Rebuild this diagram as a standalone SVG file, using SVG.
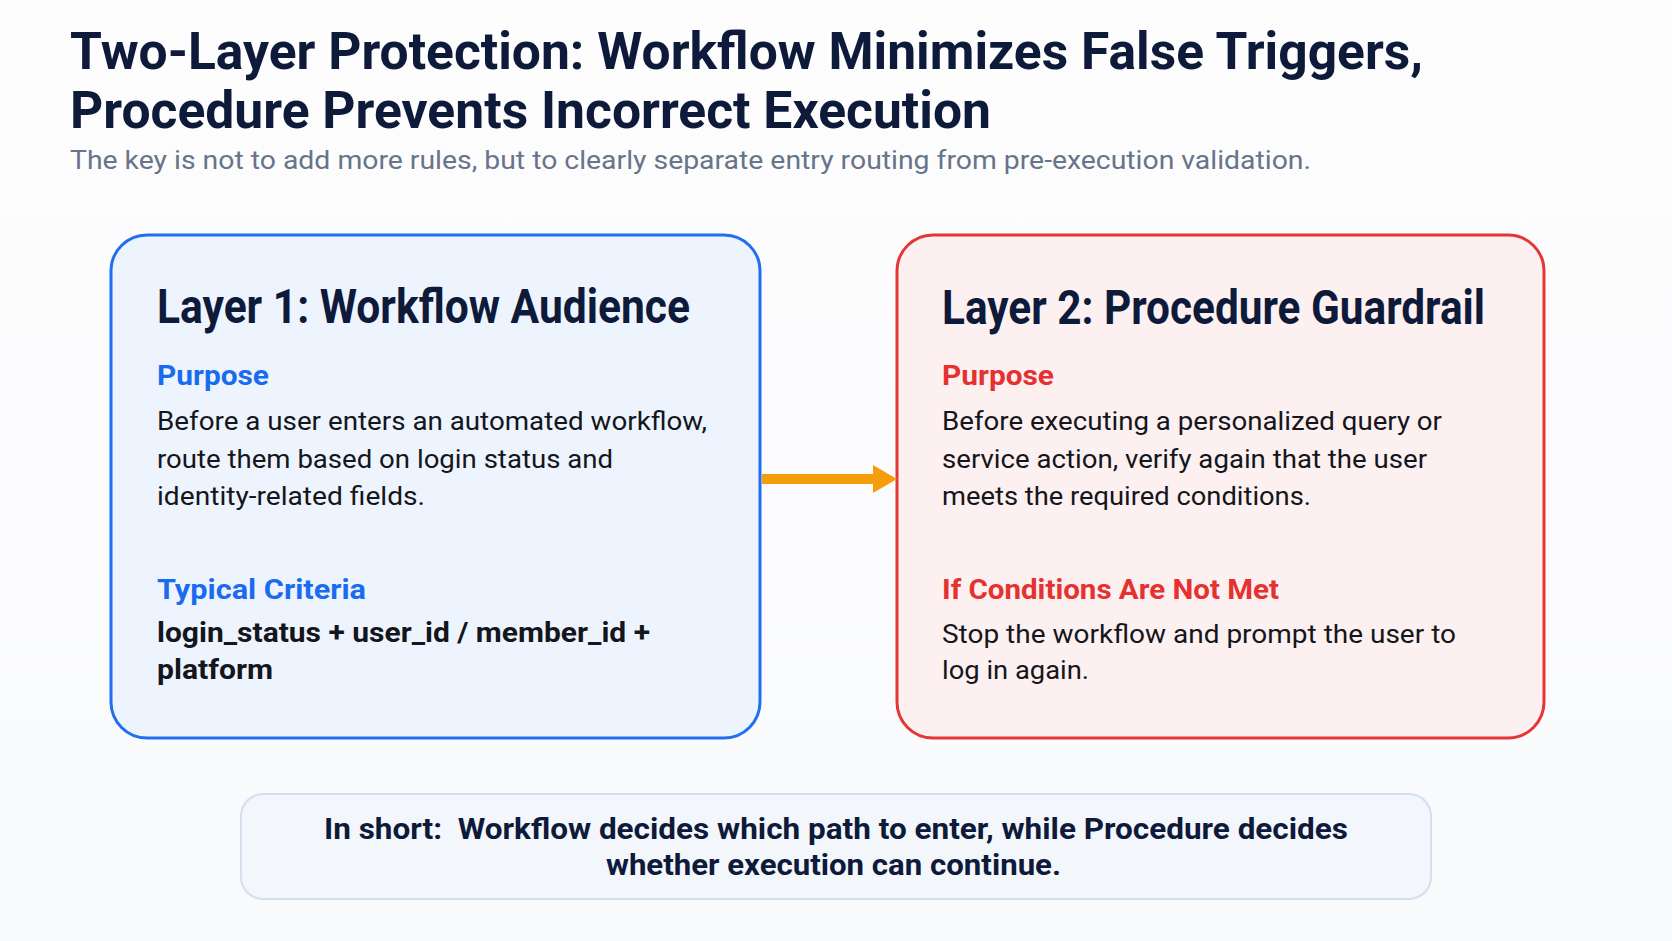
<svg xmlns="http://www.w3.org/2000/svg" width="1672" height="941" viewBox="0 0 1672 941">
<style>
text{font-family:Roboto,"Liberation Sans",sans-serif;}
.title{font-size:52px;font-weight:700;fill:#0E1A3A;}
.sub{font-size:26px;fill:#67748A;}
.h{font-size:48px;font-weight:700;fill:#0E1A3A;}
.lblB{font-size:27px;font-weight:700;fill:#1A6BF0;}
.lblR{font-size:27px;font-weight:700;fill:#E5312F;}
.body{font-size:26px;fill:#14161C;}
.bold{font-size:27px;font-weight:700;fill:#14161C;}
.sum{font-size:30px;font-weight:700;fill:#0E1A3A;}
</style>
<defs>
<linearGradient id="bg" x1="0" y1="0" x2="0" y2="1">
<stop offset="0" stop-color="#FDFDFE"/>
<stop offset="1" stop-color="#F9FAFC"/>
</linearGradient>
</defs>
<rect width="1672" height="941" fill="url(#bg)"/>
<g id="header">
<text class="title" x="70" y="69" textLength="1353" lengthAdjust="spacingAndGlyphs">Two-Layer Protection: Workflow Minimizes False Triggers,</text>
<text class="title" x="70" y="128" textLength="921" lengthAdjust="spacingAndGlyphs">Procedure Prevents Incorrect Execution</text>
<text class="sub" x="70" y="169" textLength="1241" lengthAdjust="spacingAndGlyphs">The key is not to add more rules, but to clearly separate entry routing from pre-execution validation.</text>
</g>
<g id="layer1">
<rect x="111" y="235" width="649" height="503" rx="36" fill="#EEF4FD" stroke="#1F6FF0" stroke-width="3"/>
<text class="h" x="157" y="323" textLength="533" lengthAdjust="spacingAndGlyphs">Layer 1: Workflow Audience</text>
<text class="lblB" x="157" y="385" textLength="112" lengthAdjust="spacingAndGlyphs">Purpose</text>
<text class="body" x="157" y="430" textLength="550" lengthAdjust="spacingAndGlyphs">Before a user enters an automated workflow,</text>
<text class="body" x="157" y="468" textLength="456" lengthAdjust="spacingAndGlyphs">route them based on login status and</text>
<text class="body" x="157" y="505" textLength="268" lengthAdjust="spacingAndGlyphs">identity-related fields.</text>
<text class="lblB" x="157" y="599" textLength="209" lengthAdjust="spacingAndGlyphs">Typical Criteria</text>
<text class="bold" x="157" y="642" textLength="493" lengthAdjust="spacingAndGlyphs">login_status + user_id / member_id +</text>
<text class="bold" x="157" y="679" textLength="116" lengthAdjust="spacingAndGlyphs">platform</text>
</g>
<g id="layer2">
<rect x="897" y="235" width="647" height="503" rx="36" fill="#FDF0F1" stroke="#E53535" stroke-width="3"/>
<text class="h" x="942" y="324" textLength="543" lengthAdjust="spacingAndGlyphs">Layer 2: Procedure Guardrail</text>
<text class="lblR" x="942" y="385" textLength="112" lengthAdjust="spacingAndGlyphs">Purpose</text>
<text class="body" x="942" y="430" textLength="500" lengthAdjust="spacingAndGlyphs">Before executing a personalized query or</text>
<text class="body" x="942" y="468" textLength="485" lengthAdjust="spacingAndGlyphs">service action, verify again that the user</text>
<text class="body" x="942" y="505" textLength="369" lengthAdjust="spacingAndGlyphs">meets the required conditions.</text>
<text class="lblR" x="942" y="599" textLength="337" lengthAdjust="spacingAndGlyphs">If Conditions Are Not Met</text>
<text class="body" x="942" y="643" textLength="514" lengthAdjust="spacingAndGlyphs">Stop the workflow and prompt the user to</text>
<text class="body" x="942" y="679" textLength="147" lengthAdjust="spacingAndGlyphs">log in again.</text>
</g>
<g id="connectors">
<rect x="762" y="474" width="113" height="10" fill="#F59E0B"/>
<polygon points="873,465 897,479 873,493" fill="#F59E0B"/>
</g>
<g id="summary">
<rect x="241" y="794" width="1190" height="105" rx="22" fill="#F3F6FB" stroke="#D3DEEF" stroke-width="2"/>
<text class="sum" x="324" y="839" textLength="1024" lengthAdjust="spacingAndGlyphs" xml:space="preserve">In short:  Workflow decides which path to enter, while Procedure decides</text>
<text class="sum" x="606" y="875" textLength="455" lengthAdjust="spacingAndGlyphs">whether execution can continue.</text>
</g>
</svg>
